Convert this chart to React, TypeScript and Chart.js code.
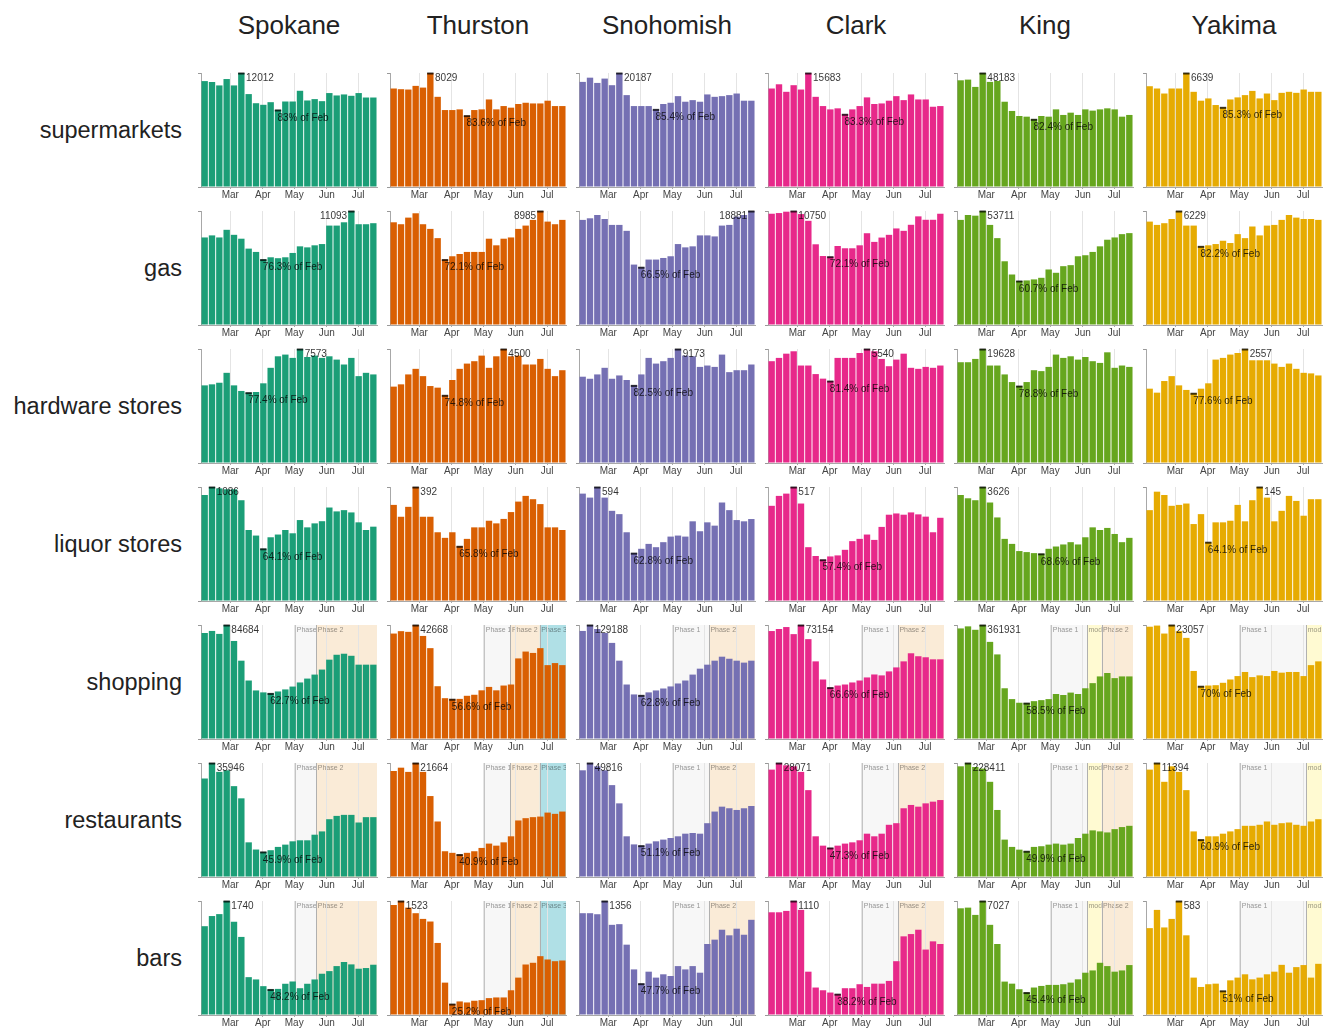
import React, { useEffect, useRef } from "react";
import { Chart, registerables } from "chart.js";

Chart.register(...registerables);

const FONT = '"Liberation Sans", Arial, Helvetica, sans-serif';

const counties = ["Spokane", "Thurston", "Snohomish", "Clark", "King", "Yakima"];
const countyColors = ["#1b9e77", "#d95f02", "#7570b3", "#e7298a", "#66a61e", "#e6ab02"];
const categories = ["supermarkets", "gas", "hardware stores", "liquor stores", "shopping", "restaurants", "bars"];

const weekStarts = [
  "2020-02-02", "2020-02-09", "2020-02-16", "2020-02-23", "2020-03-01", "2020-03-08",
  "2020-03-15", "2020-03-22", "2020-03-29", "2020-04-05", "2020-04-12", "2020-04-19",
  "2020-04-26", "2020-05-03", "2020-05-10", "2020-05-17", "2020-05-24", "2020-05-31",
  "2020-06-07", "2020-06-14", "2020-06-21", "2020-06-28", "2020-07-05", "2020-07-12",
];
const monthTicks = ["2020-03-01", "2020-04-01", "2020-05-01", "2020-06-01", "2020-07-01"];
const monthLabels = ["Mar", "Apr", "May", "Jun", "Jul"];

// weekly visits, as % of each panel's peak week (Spokane, Thurston, Snohomish, Clark, King, Yakima)
const supermarkets = [
  [92.9, 92.1, 89.1, 94.7, 89.1, 100, 81.5, 73.5, 72.1, 74.4, 67.6, 75, 75, 84.4, 75.9, 77.1, 75.3, 82.4, 80.3, 81.2, 80, 82.4, 78.5, 78.5],
  [86.4, 85.8, 85.5, 88.7, 87.2, 100, 79.1, 67.5, 67.5, 68.1, 62.6, 67.5, 68.1, 76.8, 68.1, 71, 69.6, 72.8, 73.9, 73.3, 73.3, 75.7, 71, 71],
  [92.2, 95.9, 91.3, 95.1, 89.3, 100, 80.6, 71, 71, 71, 68.1, 72.8, 73.9, 79.7, 74.8, 76.2, 74.8, 81.2, 79.1, 79.7, 80.6, 82, 75.7, 75.7],
  [86.4, 90.1, 83.5, 89.3, 85.5, 100, 79.1, 71, 68.1, 69, 63.8, 68.1, 71, 78.6, 72.8, 73.3, 75.7, 79.7, 76.2, 81.2, 76.8, 76.8, 70.4, 71],
  [93.6, 94.2, 87.8, 100, 92.2, 93, 74.8, 66.7, 62.3, 61.7, 59.4, 62.3, 61.7, 68.1, 63.2, 65.2, 63.2, 68.1, 67, 68.1, 69, 68.1, 61.7, 63.2],
  [88.4, 86.4, 82, 86.4, 86.4, 100, 83.5, 75.7, 77.7, 71.9, 69.9, 76.8, 78.6, 80.6, 84.3, 77.7, 82, 76.2, 82.6, 83.5, 82.6, 85.5, 83.5, 83.5],
];
const gas = [
  [76.8, 78.6, 76.8, 83.5, 79.1, 75.7, 67, 64.1, 57.4, 59.4, 58.6, 59.4, 63.2, 69, 68.1, 69.9, 71, 87.2, 87.2, 90.1, 100, 88.4, 88.4, 89.3],
  [90.1, 88.4, 94.2, 98, 88.4, 84.3, 76.2, 57.4, 60.3, 62.3, 64.1, 64.1, 64.1, 75.7, 69.9, 75.7, 76.8, 84.3, 87.2, 92.2, 100, 90.7, 88.4, 92.2],
  [92.2, 93.6, 96.5, 93, 87.8, 87.8, 82.6, 53, 50.7, 57.4, 57.4, 58.8, 60.3, 71, 68.1, 69, 78.6, 78.6, 77.7, 87.2, 87.8, 95, 96.5, 100],
  [97.6, 98.2, 99.4, 100, 97.3, 91.4, 70.8, 60.5, 59.9, 69.3, 67.3, 67.3, 69.9, 80.5, 72.9, 76.7, 79.1, 84.7, 82.6, 87.9, 95.3, 92.3, 92.3, 97.6],
  [92.2, 96.5, 95.9, 100, 87.8, 76.2, 55.9, 44.3, 38.6, 39.1, 40, 41.4, 48.7, 45.8, 51.6, 52.5, 60.3, 61.2, 64.1, 69, 74.8, 76.8, 79.7, 80.6],
  [90.7, 87.8, 89.3, 93, 100, 87.2, 87.2, 69, 69.9, 71, 73.9, 71.9, 79.7, 76.2, 86.4, 78.6, 87.2, 87.8, 92.2, 96.5, 94.2, 93, 93, 92.2],
];
const hardwareStores = [
  [68.1, 69, 70.4, 79.1, 68.1, 63.2, 61.7, 62.3, 69.9, 83.5, 93.6, 95.1, 92.2, 100, 93, 94.2, 92.2, 93.6, 90.7, 86.4, 92.2, 76.2, 79.1, 77.7],
  [67, 69, 77.7, 82.6, 76.2, 67.5, 66.1, 59.4, 72.8, 82.6, 87.2, 89.3, 94.2, 83.5, 93.6, 100, 93.6, 94.2, 86.4, 86.4, 91.3, 82.6, 76.2, 81.4],
  [75.7, 73.9, 77.7, 83.5, 73.9, 76.8, 72.8, 68.1, 77.7, 92.2, 87.2, 89.3, 92.2, 100, 94.2, 93.6, 84.3, 85.5, 84.3, 95.1, 79.7, 81.4, 81.4, 86.4],
  [89.3, 92.2, 95.9, 98, 85.5, 85.5, 78, 74, 71.9, 92.2, 92.2, 92.2, 96.5, 100, 98, 91.3, 84.9, 90.7, 95.9, 83.5, 82.6, 84.3, 83.5, 85.5],
  [88.4, 88.4, 91.3, 100, 85.5, 85.5, 77.7, 71, 67.5, 71, 81.4, 80.6, 84.3, 95.1, 92.2, 93.6, 90.7, 93, 89.3, 87.8, 97.1, 83.5, 85.5, 84.3],
  [65.2, 61.7, 71.9, 76.2, 68.1, 64.1, 61.2, 65.2, 69.9, 90.7, 92.2, 95.1, 96.5, 100, 90.1, 90.1, 90.1, 87.2, 84.3, 87.2, 82.6, 79.1, 78.6, 76.8],
];
const liquorStores = [
  [93, 100, 98.8, 98, 98, 88.4, 62.3, 57.4, 45.8, 55.9, 58.3, 62.3, 59.4, 71, 64.6, 68.1, 70, 82, 78.6, 79.7, 77.7, 69, 62.3, 65.2],
  [84.3, 73.9, 82.6, 100, 73.9, 73.9, 60.3, 55.4, 60.3, 48, 54.5, 64.6, 64.6, 70.4, 68.1, 72, 78, 87.2, 92.2, 89.3, 85, 64.6, 64.6, 62.3],
  [94.2, 90.7, 100, 90.7, 79.1, 76.2, 60.3, 42, 45.8, 50.1, 47.2, 51.6, 56.5, 57.4, 56.5, 69.9, 61.2, 69, 66.1, 86.4, 79.7, 71, 69.9, 71.9],
  [83.5, 92.2, 94.2, 100, 85.5, 47.2, 39.5, 36.2, 39.1, 40, 44.9, 52.5, 54.5, 58.3, 53.6, 65, 75.7, 76.8, 75.7, 77.7, 76, 74, 60.3, 73],
  [93, 90.1, 88.4, 100, 86.4, 73.3, 54.5, 50.1, 43.8, 42.9, 42, 41.4, 45.8, 47.8, 49.6, 51.6, 49.6, 55.9, 64.6, 62.3, 64.1, 58.8, 51.6, 55.4],
  [79.7, 95.9, 93, 83.5, 84.3, 85.5, 67.5, 76.2, 51.6, 69, 69, 70.4, 84.3, 69.9, 88.4, 100, 90.7, 69.9, 79.1, 92.2, 87.8, 74.8, 89.3, 89.3],
];
const shopping = [
  [93, 94.8, 92.2, 100, 86, 68.7, 51.3, 42.6, 40.9, 40, 41.7, 43.5, 46, 49.6, 53, 56.5, 60.9, 69.6, 73.9, 74.8, 73, 65.2, 65.2, 65.2],
  [92.5, 94.6, 94, 100, 90.4, 79.7, 46.3, 35.8, 34.9, 35.2, 37.9, 38.8, 42.7, 45.7, 42.7, 46.9, 47.8, 70.7, 76.7, 75.5, 79.7, 64.8, 66.6, 64.8],
  [94.8, 100, 96.5, 93, 84.3, 68.7, 47.8, 39.1, 38.3, 40.9, 42.6, 44.3, 46.1, 48.7, 51.3, 56.5, 61.7, 65.2, 68.7, 72.2, 70.4, 68.7, 67, 68.7],
  [94.7, 96.5, 98.2, 92, 100, 87.6, 68.1, 52.2, 45.1, 46.9, 47.8, 49.6, 51.3, 54, 56.6, 55.8, 59.3, 62.8, 68.1, 75.2, 72.6, 71.7, 69.9, 69.9],
  [97, 98.8, 95.8, 100, 85.2, 74.2, 44.5, 35, 31.8, 31.5, 33.2, 34.1, 35, 39.5, 38.6, 40.7, 39.5, 44.5, 49, 54.9, 57.9, 53.4, 54.9, 54.9],
  [98.5, 99.5, 92.5, 100, 94.6, 88.7, 59.7, 46.3, 46.9, 47.2, 49.3, 52.2, 55.2, 58.8, 54.3, 55.8, 55.2, 59.7, 58.2, 58.8, 58.8, 55.2, 64.8, 68.1],
];
const restaurants = [
  [86.4, 100, 92.2, 93.6, 79.7, 69, 30.4, 24.1, 22, 23.5, 26.4, 28.4, 31.3, 32.2, 32.2, 37.1, 40, 50.7, 53.6, 54.5, 54.5, 47.8, 52.5, 52.5],
  [93, 95.9, 92.2, 100, 92.2, 71, 48.7, 22.6, 21.2, 19.7, 21.2, 22.6, 25.5, 29.3, 27.5, 30.4, 35.7, 49.6, 51.6, 52.5, 53, 56.5, 55.4, 57.4],
  [93.6, 100, 97.1, 93.6, 80.6, 64.6, 35.7, 28.6, 27.5, 29.3, 31.3, 32.8, 34.2, 35.7, 38, 38.6, 38, 47.2, 57.4, 61.7, 60.3, 58.8, 60.3, 62.3],
  [94.2, 100, 98, 97.1, 92.2, 76.2, 35.7, 27.5, 25.5, 27.5, 29.3, 30.4, 32.2, 38, 35.7, 38, 45.8, 47.2, 60.3, 63.2, 61.7, 64.6, 66.1, 67.5],
  [97.1, 100, 96.5, 95.1, 83.5, 58.8, 32.8, 26.4, 24, 22.6, 26.4, 27, 28.4, 29.3, 28.4, 29.3, 34.2, 38, 40.9, 40, 39.1, 42, 43.8, 44.9],
  [94.2, 100, 83.5, 97.1, 92.2, 76.2, 40, 32.8, 35.7, 35.7, 38, 40, 42, 44.9, 44.9, 45.8, 48.7, 45.8, 47.2, 47.8, 45.8, 44.9, 48.7, 50.7],
];
const barsVisits = [
  [77.9, 86.8, 88.5, 100, 81.8, 68.5, 33.2, 31.2, 25.3, 22.4, 22.9, 27.4, 29.4, 23.5, 27.4, 31.2, 36.2, 38.5, 42.9, 46.5, 44.4, 40.6, 41.2, 44.1],
  [96.5, 100, 94.2, 89.3, 84.3, 82, 63.2, 28.4, 9.6, 11.9, 11, 12.5, 13, 14.8, 15.4, 15.4, 21.7, 32.8, 44.3, 45.8, 51.6, 48.7, 47.2, 47.8],
  [89.3, 89.3, 88.4, 100, 79.1, 79.7, 61.7, 40, 27.5, 38, 32.8, 35.7, 34.2, 42.9, 40, 42.9, 37.1, 62.3, 66.1, 74.8, 69.9, 75.7, 70.4, 83.5],
  [90.1, 90.1, 91.3, 100, 92.2, 38, 24.1, 21.7, 19.7, 18.3, 23.5, 23.5, 27, 24.6, 27.5, 27.5, 29.9, 47.2, 69, 71, 74.8, 57.4, 64.6, 62.3],
  [93.6, 94.2, 87.8, 100, 79.1, 62.3, 29.3, 27.5, 22.6, 19.7, 24.1, 25.5, 26.4, 26.4, 27, 28.4, 31.3, 37.1, 39.1, 45.8, 42.9, 38, 39.1, 43.8],
  [76.2, 92.2, 76.8, 84.3, 100, 69.9, 32.8, 24.6, 27, 27.5, 21.2, 30.4, 32.8, 35.7, 31.3, 32.8, 35.7, 38, 44, 37.1, 42, 43.8, 32.8, 44.9],
];

const peakValues = [
  [12012, 8029, 20187, 15683, 48183, 6639],
  [11093, 8985, 18881, 10750, 53711, 6229],
  [7573, 4500, 9173, 5540, 19628, 2557],
  [1086, 392, 594, 517, 3626, 145],
  [84684, 42668, 129188, 73154, 361931, 23057],
  [35946, 21664, 49816, 28071, 228411, 11394],
  [1740, 1523, 1356, 1110, 7027, 583],
];
const minPctOfFeb = [
  [83, 83.6, 85.4, 83.3, 82.4, 85.3],
  [76.3, 72.1, 66.5, 72.1, 60.7, 82.2],
  [77.4, 74.8, 82.5, 81.4, 78.8, 77.6],
  [64.1, 65.8, 62.8, 57.4, 68.6, 64.1],
  [62.7, 56.6, 62.8, 66.6, 58.5, 70],
  [45.9, 40.9, 51.1, 47.3, 49.9, 60.9],
  [48.2, 25.2, 47.7, 38.2, 45.4, 51],
];

// reopening phases (start dates) per county, drawn on shopping / restaurants / bars rows
const phaseRows = [4, 5, 6];
const countyPhases: [string, string][][] = [
  [["Phase 1", "2020-05-02"], ["Phase 2", "2020-05-22"]],
  [["Phase 1", "2020-05-02"], ["Phase 2", "2020-05-27"], ["Phase 3", "2020-06-24"]],
  [["Phase 1", "2020-05-02"], ["Phase 2", "2020-06-05"]],
  [["Phase 1", "2020-05-02"], ["Phase 2", "2020-06-05"]],
  [["Phase 1", "2020-05-02"], ["mod 1", "2020-06-05"], ["Phase 2", "2020-06-19"]],
  [["Phase 1", "2020-05-02"], ["mod 1", "2020-07-04"]],
];
const phaseFill: Record<string, string> = {
  "Phase 1": "#f7f7f7",
  "mod 1": "#fffad2",
  "Phase 2": "#faebd7",
  "Phase 3": "#b0e0e6",
};

const rowData = [supermarkets, gas, hardwareStores, liquorStores, shopping, restaurants, barsVisits];

// layout
const COL_LEFT = 201;
const COL_STEP = 189;
const ROW_TOP = 73;
const ROW_STEP = 138;
const PLOT_W = 176;
const PLOT_H = 114;
const PAD_L = 10;
const PAD_T = 6;
const CANVAS_W = PAD_L + PLOT_W + 3;
const CANVAS_H = PAD_T + PLOT_H + 18;

const DAY0 = Date.parse("2020-02-02T00:00:00Z");
const dayOf = (d: string) => (Date.parse(d + "T00:00:00Z") - DAY0) / 86400000;

function Panel({ row, col }: { row: number; col: number }) {
  const ref = useRef<HTMLCanvasElement>(null);
  useEffect(() => {
    const rel = rowData[row][col];
    const peak = peakValues[row][col];
    const values = rel.map((v) => (v * peak) / 100);
    let iMax = 0;
    let iMin = 0;
    values.forEach((v, i) => {
      if (v > values[iMax]) iMax = i;
      if (v < values[iMin]) iMin = i;
    });
    const phases = phaseRows.includes(row) ? countyPhases[col] : [];

    const phasePlugin = {
      id: "phases",
      beforeDraw(chart: any) {
        if (!phases.length) return;
        const { ctx, chartArea: a } = chart;
        const xs = chart.scales.x;
        ctx.save();
        ctx.beginPath();
        ctx.rect(a.left, a.top, a.right - a.left, a.bottom - a.top);
        ctx.clip();
        phases.forEach(([name, start], k) => {
          const x0 = xs.getPixelForValue(dayOf(start));
          const x1 = k + 1 < phases.length ? xs.getPixelForValue(dayOf(phases[k + 1][1])) : a.right;
          ctx.fillStyle = phaseFill[name];
          ctx.fillRect(x0, a.top, x1 - x0, a.bottom - a.top);
        });
        phases.forEach(([name, start], k) => {
          const x0 = xs.getPixelForValue(dayOf(start));
          const x1 = k + 1 < phases.length ? xs.getPixelForValue(dayOf(phases[k + 1][1])) : a.right;
          ctx.strokeStyle = name === "Phase 1" ? "#c4c4c4" : "#b0b0b0";
          ctx.lineWidth = 1;
          ctx.beginPath();
          ctx.moveTo(Math.round(x0) + 0.5, a.top);
          ctx.lineTo(Math.round(x0) + 0.5, a.bottom);
          ctx.stroke();
          ctx.save();
          ctx.beginPath();
          ctx.rect(x0, a.top, x1 - x0, 14);
          ctx.clip();
          ctx.fillStyle = "rgba(0,0,0,0.42)";
          ctx.font = `7px ${FONT}`;
          ctx.textBaseline = "middle";
          ctx.textAlign = "left";
          ctx.fillText(name, x0 + 1.5, a.top + 5);
          ctx.restore();
        });
        ctx.restore();
      },
    };

    const labelPlugin = {
      id: "peakMin",
      afterDatasetsDraw(chart: any) {
        const { ctx, chartArea: a } = chart;
        const meta = chart.getDatasetMeta(0);
        const bMax = meta.data[iMax].getProps(["x", "y", "width"], true);
        const bMin = meta.data[iMin].getProps(["x", "y", "width"], true);
        ctx.save();
        ctx.fillStyle = "rgba(0,0,0,0.75)";
        ctx.fillRect(bMax.x - bMax.width / 2, bMax.y - 0.5, bMax.width, 2);
        ctx.fillRect(bMin.x - bMin.width / 2, bMin.y - 0.5, bMin.width, 2);
        ctx.font = `10px ${FONT}`;
        ctx.textBaseline = "middle";
        ctx.fillStyle = "rgba(0,0,0,0.8)";
        const peakText = String(peak);
        const tw = ctx.measureText(peakText).width;
        const rightX = bMax.x + bMax.width / 2 + 1.5;
        if (rightX + tw > a.right) {
          ctx.textAlign = "right";
          ctx.fillText(peakText, bMax.x - bMax.width / 2 - 1, bMax.y + 5);
        } else {
          ctx.textAlign = "left";
          ctx.fillText(peakText, rightX, bMax.y + 5);
        }
        ctx.textAlign = "left";
        ctx.fillText(`${minPctOfFeb[row][col]}% of Feb`, bMin.x - 0.5, bMin.y + 8);
        ctx.restore();
      },
    };

    const chart = new Chart(ref.current as HTMLCanvasElement, {
      type: "bar",
      data: {
        datasets: [
          {
            data: weekStarts.map((d, i) => ({ x: dayOf(d) + 3.5, y: values[i] })),
            backgroundColor: countyColors[col],
            borderWidth: 0,
            barPercentage: 0.87,
            categoryPercentage: 1,
          },
        ],
      },
      options: {
        animation: false,
        responsive: false,
        events: [],
        layout: { padding: { left: PAD_L - 6, right: 3, top: PAD_T, bottom: 0 } },
        plugins: { legend: { display: false }, tooltip: { enabled: false } },
        scales: {
          x: {
            type: "linear",
            min: dayOf(weekStarts[0]),
            max: dayOf(weekStarts[weekStarts.length - 1]) + 7,
            offset: false,
            afterBuildTicks: (s: any) => {
              s.ticks = monthTicks.map((d) => ({ value: dayOf(d) }));
            },
            afterFit: (s: any) => {
              s.height = 18;
            },
            ticks: {
              autoSkip: false,
              maxRotation: 0,
              padding: 0,
              color: "#444",
              font: { size: 10, family: FONT },
              callback: (_v: any, i: number) => monthLabels[i],
            },
            grid: { offset: false, color: "#e4e4e4", tickColor: "#aaa", tickLength: 2 },
            border: { color: "#a8a8a8" },
          },
          y: {
            min: 0,
            max: peak,
            afterBuildTicks: (s: any) => {
              s.ticks = [{ value: 0 }, { value: peak }];
            },
            afterFit: (s: any) => {
              s.width = 6;
            },
            ticks: { display: false },
            grid: { drawOnChartArea: false, tickLength: 3, tickColor: "#999" },
            border: { color: "#a8a8a8" },
          },
        },
      } as any,
      plugins: [phasePlugin, labelPlugin],
    });
    return () => chart.destroy();
  }, [row, col]);

  return (
    <canvas
      ref={ref}
      width={CANVAS_W}
      height={CANVAS_H}
      style={{
        position: "absolute",
        left: COL_LEFT + col * COL_STEP - PAD_L,
        top: ROW_TOP + row * ROW_STEP - PAD_T,
        width: CANVAS_W,
        height: CANVAS_H,
      }}
    />
  );
}

export default function App() {
  return (
    <div
      style={{
        position: "absolute",
        left: 0,
        top: 0,
        width: 1338,
        height: 1028,
        overflow: "hidden",
        background: "#fff",
        fontFamily: FONT,
      }}
    >
      {counties.map((c, i) => (
        <div
          key={c}
          style={{
            position: "absolute",
            left: COL_LEFT + i * COL_STEP + PLOT_W / 2 - 100,
            width: 200,
            top: 10,
            height: 30,
            lineHeight: "30px",
            textAlign: "center",
            fontSize: 26,
            color: "#222",
          }}
        >
          {c}
        </div>
      ))}
      {categories.map((c, r) => (
        <div
          key={c}
          style={{
            position: "absolute",
            left: 0,
            width: 182,
            top: ROW_TOP + r * ROW_STEP + PLOT_H / 2 - 15,
            height: 30,
            lineHeight: "30px",
            textAlign: "right",
            fontSize: 23.5,
            color: "#222",
          }}
        >
          {c}
        </div>
      ))}
      {categories.map((_, r) => counties.map((__, c) => <Panel key={`${r}-${c}`} row={r} col={c} />))}
    </div>
  );
}
